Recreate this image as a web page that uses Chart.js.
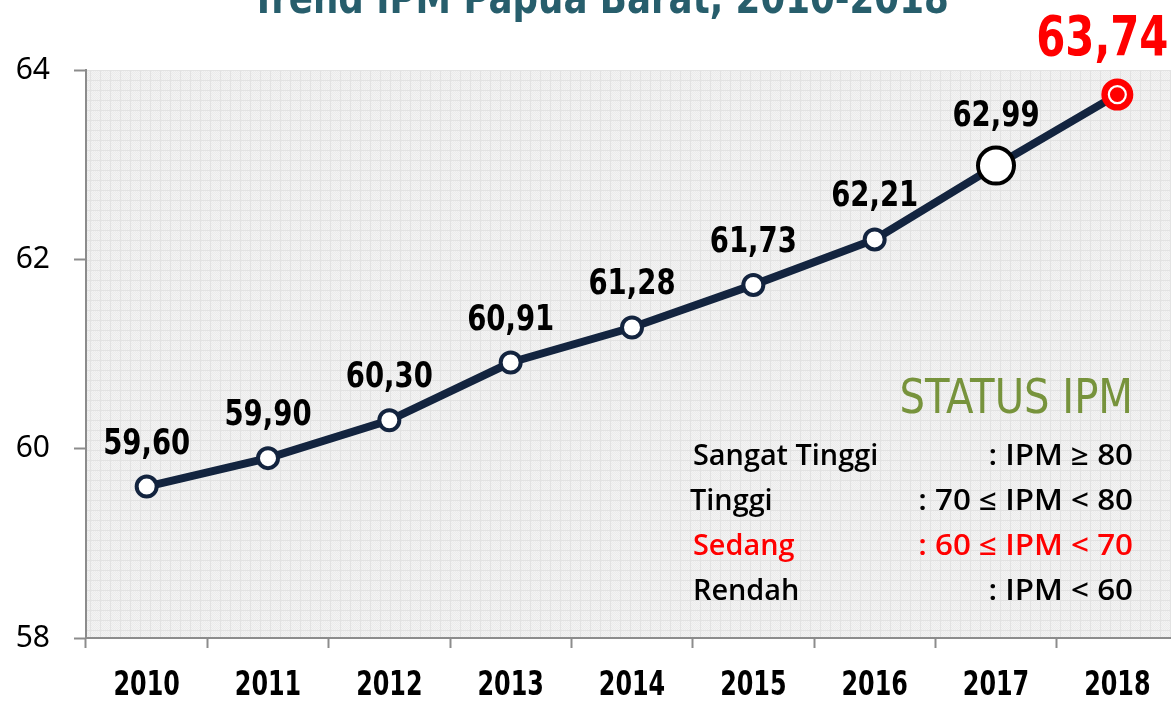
<!DOCTYPE html>
<html>
<head>
<meta charset="utf-8">
<script src="https://cdn.jsdelivr.net/npm/chart.js@4/dist/chart.umd.min.js"></script>
<style>
  html, body { margin: 0; padding: 0; background: #fff; overflow: hidden; }
  .wrap { width: 1178px; height: 701px; position: relative; }
</style>
</head>
<body>
<div class="wrap"><canvas id="ipm"></canvas></div>
<script>
const years = ['2010', '2011', '2012', '2013', '2014', '2015', '2016', '2017', '2018'];
const ipm = [59.60, 59.90, 60.30, 60.91, 61.28, 61.73, 62.21, 62.99, 63.74];
const yTicks = [58, 60, 62, 64];
const titleText = 'Trend IPM Papua Barat, 2010-2018';
const statusTitle = 'STATUS IPM';
const statusNames = ['Sangat Tinggi', 'Tinggi', 'Sedang', 'Rendah'];
const statusRanges = [': IPM \u2265 80', ': 70 \u2264 IPM < 80', ': 60 \u2264 IPM < 70', ': IPM < 60'];

const cond = "'DejaVu Sans Condensed', 'DejaVu Sans', sans-serif";
const navy = '#13243f';
const last = ipm.length - 1;

// little grey grid texture for the plot area
const pat = document.createElement('canvas');
pat.width = 10; pat.height = 10;
const pc = pat.getContext('2d');
pc.fillStyle = '#f3f3f3';
pc.fillRect(0, 0, 10, 10);
pc.fillStyle = '#ebebeb';
for (let i = 0; i < 10; i++) {
    for (let j = 0; j < 10; j++) {
        if ((i + j) % 2 === 0) pc.fillRect(i, j, 1, 1);
    }
}
pc.fillStyle = '#e2e2e2';
pc.fillRect(0, 0, 10, 1);
pc.fillRect(0, 0, 1, 10);

// squeezed text, to get close to a narrow font
function narrowText(ctx, txt, x, y, font, color, align, sx) {
    ctx.save();
    ctx.font = font;
    ctx.fillStyle = color;
    ctx.textAlign = align;
    ctx.textBaseline = 'alphabetic';
    ctx.translate(x, y);
    ctx.scale(sx, 1);
    ctx.fillText(txt, 0, 0);
    ctx.restore();
}

const extras = {
    id: 'extras',
    beforeDraw(chart) {
        const { ctx, chartArea: a } = chart;
        ctx.save();
        ctx.fillStyle = ctx.createPattern(pat, 'repeat');
        ctx.fillRect(a.left, a.top, a.right - a.left, a.bottom - a.top);
        ctx.restore();
    },
    afterDraw(chart) {
        const { ctx } = chart;
        const pts = chart.getDatasetMeta(0).data;
        const xs = chart.scales.x;

        // white ring in the last point
        const p = pts[last];
        ctx.save();
        ctx.beginPath();
        ctx.arc(p.x, p.y, 8.5, 0, Math.PI * 2);
        ctx.strokeStyle = '#fff';
        ctx.lineWidth = 2.2;
        ctx.stroke();
        ctx.restore();

        // value labels
        pts.forEach((pt, i) => {
            const txt = ipm[i].toFixed(2).replace('.', ',');
            if (i === last) {
                narrowText(ctx, txt, pt.x - 15, 55, 'bold 56px ' + cond, '#ff0000', 'center', 0.83);
            } else {
                const off = i === last - 1 ? 40 : 33;
                narrowText(ctx, txt, pt.x, pt.y - off, 'bold 36px ' + cond, '#000', 'center', 0.85);
            }
        });

        // year labels
        years.forEach((yr, i) => {
            narrowText(ctx, yr, xs.getPixelForValue(i), 695, 'bold 34px ' + cond, '#000', 'center', 0.78);
        });

        // title, cut off at the top edge
        narrowText(ctx, titleText, 600, 13, 'bold 44px ' + cond, '#275e6c', 'center', 0.9);

        // status box
        narrowText(ctx, statusTitle, 1133, 413, '48px ' + cond, '#77933c', 'right', 0.93);
        const rows = [465, 510, 555, 600];
        statusNames.forEach((n, i) => {
            const col = n === 'Sedang' ? '#ff0000' : '#000';
            narrowText(ctx, n, i === 1 ? 690 : 693, rows[i], '600 28px "Open Sans", sans-serif', col, 'left', 1.03);
            narrowText(ctx, statusRanges[i], 1133, rows[i], '600 28px "Open Sans", sans-serif', col, 'right', 1.12);
        });
    }
};

new Chart(document.getElementById('ipm'), {
    type: 'line',
    data: {
        labels: years,
        datasets: [{
            data: ipm,
            borderColor: navy,
            borderWidth: 8,
            tension: 0,
            pointRadius: ipm.map((v, i) => i === last - 1 ? 18 : (i === last ? 14 : 10)),
            pointBorderWidth: 4,
            pointBackgroundColor: ipm.map((v, i) => i === last ? '#ff0000' : '#fff'),
            pointBorderColor: ipm.map((v, i) => i === last ? '#ff0000' : (i === last - 1 ? '#000' : navy)),
            pointHoverRadius: 10
        }]
    },
    options: {
        responsive: true,
        maintainAspectRatio: false,
        animation: false,
        layout: { autoPadding: false, padding: { top: 70, right: 0, left: 0, bottom: 0 } },
        plugins: { legend: { display: false }, tooltip: { enabled: false } },
        scales: {
            x: {
                offset: true,
                grid: { offset: true, drawOnChartArea: false, drawTicks: true, tickLength: 10, tickColor: '#8c8c8c', tickWidth: 2 },
                border: { color: '#8c8c8c', width: 2 },
                ticks: { color: 'rgba(0,0,0,0)', padding: 18, font: { size: 20 }, maxRotation: 0 },
                afterFit(s) { s.height = 63; s.paddingLeft = 0; s.paddingRight = 0; }
            },
            y: {
                min: 58,
                max: 64,
                afterBuildTicks(s) { s.ticks = yTicks.map(v => ({ value: v })); },
                grid: { drawOnChartArea: false, drawTicks: true, tickLength: 12, tickColor: '#8c8c8c', tickWidth: 2 },
                border: { color: '#8c8c8c', width: 2 },
                ticks: { color: '#000', padding: 24, font: { family: "'Noto Sans', 'Open Sans', sans-serif", size: 30 } },
                afterFit(s) { s.width = 86; }
            }
        }
    },
    plugins: [extras]
});
</script>
</body>
</html>
